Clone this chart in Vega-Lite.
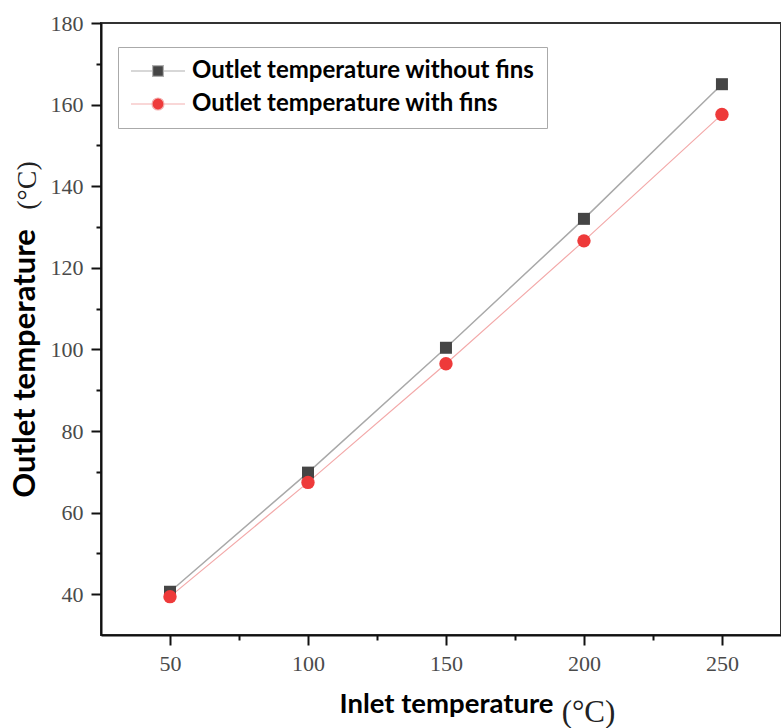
{
  "$schema": "https://vega.github.io/schema/vega-lite/v6.json",
  "width": 680,
  "height": 612,
  "autosize": "none",
  "padding": {"left": 101, "top": 23, "right": 0, "bottom": 93},
  "background": "white",
  "config": {
    "view": {"stroke": "#333333", "strokeWidth": 2},
    "axis": {"grid": false}
  },
  "data": {
    "values": [
      {"inlet": 50, "outlet": 40.6, "series": "Outlet temperature without fins"},
      {"inlet": 100, "outlet": 69.8, "series": "Outlet temperature without fins"},
      {"inlet": 150, "outlet": 100.4, "series": "Outlet temperature without fins"},
      {"inlet": 200, "outlet": 132.0, "series": "Outlet temperature without fins"},
      {"inlet": 250, "outlet": 165.0, "series": "Outlet temperature without fins"},
      {"inlet": 50, "outlet": 39.4, "series": "Outlet temperature with fins"},
      {"inlet": 100, "outlet": 67.4, "series": "Outlet temperature with fins"},
      {"inlet": 150, "outlet": 96.5, "series": "Outlet temperature with fins"},
      {"inlet": 200, "outlet": 126.6, "series": "Outlet temperature with fins"},
      {"inlet": 250, "outlet": 157.6, "series": "Outlet temperature with fins"}
    ]
  },
  "resolve": {"axis": {"x": "independent", "y": "independent"}},
  "layer": [
    {
      "transform": [{"filter": "datum.series === 'Outlet temperature without fins'"}],
      "mark": {"type": "line", "color": "#a9a9a9", "strokeWidth": 1.5},
      "encoding": {
        "x": {
          "field": "inlet", "type": "quantitative",
          "scale": {"domain": [25, 271.4], "nice": false, "zero": false},
          "axis": {
            "orient": "bottom",
            "values": [50, 100, 150, 200, 250],
            "domainColor": "#111111", "domainWidth": 2,
            "tickColor": "#111111", "tickWidth": 2, "tickSize": 10,
            "labelFont": "Liberation Serif", "labelFontSize": 22, "labelColor": "#4a4a4a", "labelPadding": 8,
            "title": "Inlet temperature",
            "titleFont": "Lato", "titleFontWeight": "bold", "titleFontSize": 27.5, "titleColor": "#000000",
            "titleX": 345, "titleY": 77, "titleAlign": "center", "titleBaseline": "alphabetic"
          }
        },
        "y": {
          "field": "outlet", "type": "quantitative",
          "scale": {"domain": [30, 180], "nice": false, "zero": false},
          "axis": {
            "orient": "left",
            "values": [40, 60, 80, 100, 120, 140, 160, 180],
            "domainColor": "#111111", "domainWidth": 2,
            "tickColor": "#111111", "tickWidth": 2, "tickSize": 10,
            "labelFont": "Liberation Serif", "labelFontSize": 22, "labelColor": "#4a4a4a", "labelPadding": 8,
            "title": "Outlet temperature",
            "titleFont": "Lato", "titleFontWeight": "bold", "titleFontSize": 31, "titleColor": "#000000",
            "titleAngle": 270, "titleX": -67, "titleY": 340, "titleAlign": "center", "titleBaseline": "alphabetic"
          }
        }
      }
    },
    {
      "transform": [{"filter": "datum.series === 'Outlet temperature with fins'"}],
      "mark": {"type": "line", "color": "#f3a9a9", "strokeWidth": 1.2},
      "encoding": {
        "x": {"field": "inlet", "type": "quantitative", "axis": null},
        "y": {"field": "outlet", "type": "quantitative", "axis": null}
      }
    },
    {
      "transform": [{"filter": "datum.series === 'Outlet temperature without fins'"}],
      "mark": {"type": "point", "shape": "square", "filled": true, "size": 144, "color": "#454545", "opacity": 1},
      "encoding": {
        "x": {"field": "inlet", "type": "quantitative", "axis": null},
        "y": {"field": "outlet", "type": "quantitative", "axis": null}
      }
    },
    {
      "transform": [{"filter": "datum.series === 'Outlet temperature with fins'"}],
      "mark": {"type": "point", "shape": "circle", "filled": true, "size": 180, "color": "#ee3a3a", "opacity": 1},
      "encoding": {
        "x": {"field": "inlet", "type": "quantitative", "axis": null},
        "y": {"field": "outlet", "type": "quantitative", "axis": null}
      }
    },
    {
      "mark": {"type": "point", "filled": true, "opacity": 0, "size": 144, "strokeWidth": 1.2},
      "encoding": {
        "x": {
          "field": "inlet", "type": "quantitative",
          "axis": {
            "orient": "bottom",
            "values": [75, 125, 175, 225],
            "labels": false, "domain": false,
            "tickColor": "#111111", "tickWidth": 2, "tickSize": 5,
            "title": "(°C)",
            "titleFont": "Liberation Serif", "titleFontWeight": "normal", "titleFontSize": 31, "titleColor": "#222222",
            "titleX": 487, "titleY": 86, "titleAlign": "center", "titleBaseline": "alphabetic"
          }
        },
        "y": {
          "field": "outlet", "type": "quantitative",
          "axis": {
            "orient": "left",
            "values": [50, 70, 90, 110, 130, 150, 170],
            "labels": false, "domain": false,
            "tickColor": "#111111", "tickWidth": 2, "tickSize": 5,
            "title": "(°C)",
            "titleFont": "Liberation Serif", "titleFontWeight": "normal", "titleFontSize": 28, "titleColor": "#222222",
            "titleAngle": 270, "titleX": -66, "titleY": 162, "titleAlign": "center", "titleBaseline": "alphabetic"
          }
        },
        "fill": {
          "field": "series", "type": "nominal",
          "scale": {"domain": ["Outlet temperature without fins", "Outlet temperature with fins"], "range": ["#454545", "#ee3a3a"]},
          "legend": {
            "title": null, "orient": "none", "legendX": 17, "legendY": 24,
            "padding": 12, "strokeColor": "#aaaaaa", "fillColor": "white",
            "labelFont": "Lato", "labelFontWeight": "bold", "labelFontSize": 24, "labelColor": "#000000",
            "labelOffset": 22, "symbolOffset": 16, "rowPadding": 9, "symbolSize": 144, "symbolStrokeWidth": 1.2,
            "labelLimit": 500,
            "encode": {
              "symbols": {
                "update": {
                  "fill": {"scale": "fill", "field": "value"},
                  "stroke": {"scale": "stroke", "field": "value"},
                  "opacity": {"value": 1},
                  "fillOpacity": {"value": 1}
                }
              }
            }
          }
        },
        "stroke": {
          "field": "series", "type": "nominal",
          "scale": {"domain": ["Outlet temperature without fins", "Outlet temperature with fins"], "range": ["#b0b0b0", "#f3b0b0"]}
        },
        "shape": {
          "field": "series", "type": "nominal",
          "scale": {
            "domain": ["Outlet temperature without fins", "Outlet temperature with fins"],
            "range": [
              "M-4.5,0H-0.9M0.9,0H4.5M-0.9,-0.9H0.9V0.9H-0.9Z",
              "M-4.5,0H-1M1,0H4.5M-1,0A1,1,0,1,0,1,0A1,1,0,1,0,-1,0Z"
            ]
          }
        }
      }
    }
  ]
}
